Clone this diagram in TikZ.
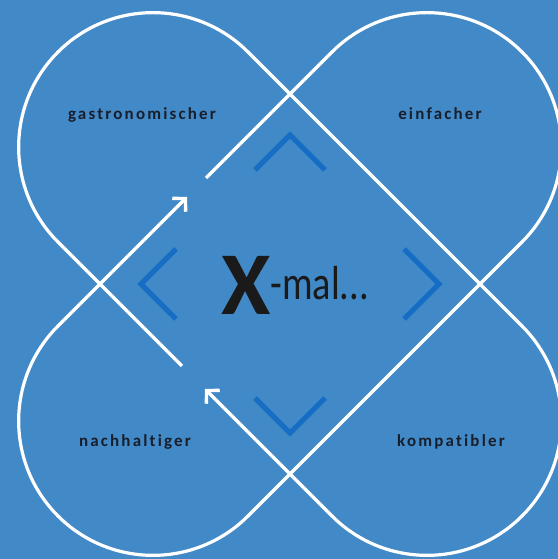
\documentclass[tikz,border=0pt]{standalone}
\usepackage{fontspec}
\setmainfont{Carlito}
\newfontfamily\narrowfont[FakeStretch=0.8]{Carlito}
\usetikzlibrary{arrows.meta}
\definecolor{panelbg}{RGB}{66,137,200}
\definecolor{chevronblue}{RGB}{22,110,196}
\definecolor{labeltext}{RGB}{24,30,42}
\definecolor{titletext}{RGB}{26,26,26}

\begin{document}
\begin{tikzpicture}[
    x=1bp, y=1bp,
    leafline/.style={white, line width=3.2bp},
    arrowline/.style={leafline, -{Straight Barb[length=9bp, width=19bp, line width=3.4bp]}},
    chevron/.style={chevronblue, line width=5bp},
    quality/.style={font=\fontsize{17}{17}\selectfont\bfseries\addfontfeature{LetterSpace=13, Ligatures=NoCommon}, text=labeltext, inner sep=0pt}
]
    % Background
    \fill[panelbg] (-290,-275) rectangle (268,284);
    \useasboundingbox (-290,-275) rectangle (268,284);

    % Gaps and arrow tips
    \coordinate (gapA) at (-108,-82);
    \coordinate (tipA) at (-85,-105);
    \coordinate (gapB) at (-84,106);
    \coordinate (tipB) at (-103,87);

    % Leaves
    \draw[arrowline] (gapA) -- (-232,42) arc[start angle=225, end angle=45, radius=134.35]
        -- (232,-42) arc[start angle=45, end angle=-135, radius=134.35] -- (tipA);
    \draw[arrowline] (gapB) -- (42,232) arc[start angle=135, end angle=-45, radius=134.35]
        -- (-42,-232) arc[start angle=-45, end angle=-225, radius=134.35] -- (tipB);

    % Chevrons
    \foreach \a in {0,90,180,270}
        \draw[chevron, rotate=\a] (-35,114) -- (0,149) -- (35,114);

    % Labels
    \node[quality] (gastro) at (-148,169) {gastronomischer};
    \node[quality] (einfach) at (150,170) {einfacher};
    \node[quality] (nachhalt) at (-155,-158) {nachhaltiger};
    \node[quality] (kompat) at (161,-158) {kompatibler};

    % Title
    \node[anchor=base west, inner sep=0pt, text=titletext] (title) at (-69,-31)
        {{\fontsize{90}{90}\selectfont\bfseries X}\raisebox{15bp}{\fontsize{48}{48}\narrowfont -mal...}};
\end{tikzpicture}
\end{document}
